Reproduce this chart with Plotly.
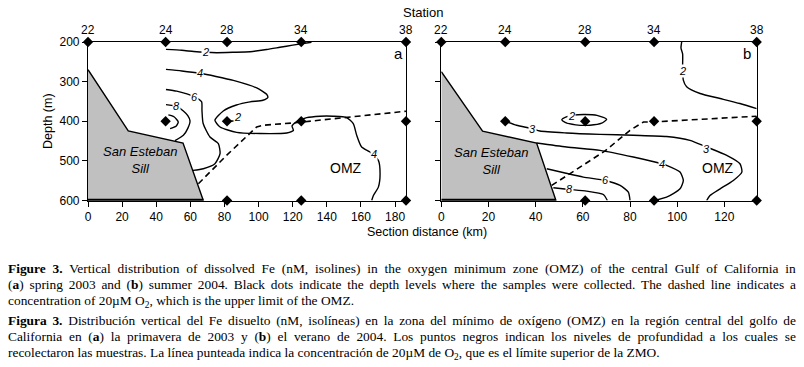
import plotly.graph_objects as go

# ---------------- data ----------------
# Panel a (spring 2003)
a_station_names = ["22", "24", "28", "34", "38"]
a_station_km = [0, 45.5, 81.5, 125.0, 186.4]
a_samples_km = [0, 45.5, 81.5, 125.0, 186.4, 45.5, 81.5, 125.0, 186.4, 81.5, 125.0, 186.4]
a_samples_depth = [200, 200, 200, 200, 200, 400, 400, 400, 400, 600, 600, 600]
a_sill_km = [0, 23.6, 55.7, 67.6, 0]
a_sill_depth = [270, 424.5, 455, 600, 600]
a_iso2_km = [45.7, 55, 62, 68.6, 75.4, 85.2, 95, 104.7, 112.5, 120, 131]
a_iso2_depth = [218.5, 221, 224, 226, 227, 226, 224.5, 219, 213.4, 208, 200.5]
a_iso4_km = [45.7, 55, 65.6, 75, 85.2, 98.9, 104.7, 105.4, 102.5, 95, 87, 79.3, 74.4, 77.4, 87.1, 100.8,
             116.5, 120.4, 119.6, 122.4, 128.2, 136, 143.8, 151.6, 155.5, 157.5, 160.4, 165.3, 170.2,
             171.2, 170.2, 167.3, 166.3]
a_iso4_depth = [269, 273, 279, 287, 297, 316, 332, 340, 347, 351, 359, 374, 397.5, 414.4, 428, 431,
                429.5, 423, 412, 401, 391, 387.3, 387.3, 390.7, 405.9, 435.4, 465, 477.6, 498.7,
                532.5, 566.2, 587.3, 600]
a_iso2b_km = [81.5, 85, 89.1]
a_iso2b_depth = [400, 399.5, 398.7]
a_iso6_km = [45.7, 52, 58, 62.7, 66.6, 66.8, 67.5, 71.5, 76.4, 77.4, 74.4, 67.6, 61.5]
a_iso6_depth = [319.8, 324, 331, 338.5, 351, 372, 405.8, 439.7, 456.5, 481.9, 507.2, 519.8, 524]
a_iso8_km = [45.7, 49, 51.6, 55.9, 58.5, 59.8, 58.5, 55.9, 51]
a_iso8_depth = [358, 360, 362, 374, 386, 399, 418, 435.4, 449]
a_iso10_km = [47.1, 50.4, 52.9, 51.6, 48.1]
a_iso10_depth = [384, 388.6, 401.8, 412.7, 418.5]
a_o2_km = [64.7, 81, 98.9, 102.8, 120.4, 143.8, 163.3, 186.4]
a_o2_depth = [557.8, 487, 414.3, 410, 404.2, 393.2, 384.8, 374.7]
a_iso_labels = ["2", "4", "6", "8", "2", "4"]
a_iso_label_km = [68.6, 65.6, 62.7, 51.6, 87.5, 167.6]
a_iso_label_depth = [226, 279, 338.5, 362, 389, 481.9]

# Panel b (summer 2004)
b_station_names = ["22", "24", "28", "34", "38"]
b_station_km = [0, 27.1, 61.0, 90.2, 133.7]
b_samples_km = [0, 27.1, 61.0, 90.2, 133.7, 27.1, 61.0, 90.2, 133.7, 61.0, 90.2, 133.7]
b_samples_depth = [200, 200, 200, 200, 200, 400, 400, 400, 400, 600, 600, 600]
b_sill_km = [0, 17.5, 40.4, 48.6, 0]
b_sill_depth = [275, 425, 455, 600, 600]
b_iso2_km = [101.9, 101.6, 102.3, 102.3, 102.6, 104, 109.7, 118.2, 126.6, 133.7]
b_iso2_depth = [200, 215, 230, 260, 296.2, 313, 330, 342.6, 355.3, 368]
b_iso2e_km = [51.1, 53, 56, 60.9, 66, 70.1, 68, 63, 57, 52.5, 51.1]
b_iso2e_depth = [396, 389, 384.5, 383, 385, 395, 405, 410, 409, 403, 396]
b_iso3_km = [27.1, 31.9, 38.6, 41.8, 53.1, 67.3, 81.4, 95.5, 105.4, 112.5, 121, 126.6, 127.4, 123.8,
             118.2, 113.9, 112.5]
b_iso3_depth = [400, 410.1, 418.6, 424.5, 429.5, 433, 435.4, 438.5, 448.1, 465, 486, 507.2, 528.3,
                549.4, 570.5, 587.3, 600]
b_iso4_km = [40.4, 53.1, 67.3, 81.4, 93.4, 95.5, 101.2, 102.6, 101.2, 95.5, 90.2]
b_iso4_depth = [454.9, 465, 473.4, 490.3, 507.2, 511.4, 528.3, 549.4, 570.5, 591.6, 600]
b_iso6_km = [44.7, 52, 60.2, 69.4, 75.8, 79.3, 80]
b_iso6_depth = [519.8, 530, 540.9, 549.4, 562, 578.9, 600]
b_iso8_km = [47.5, 54.3, 61.6, 68.7, 70.4]
b_iso8_depth = [567.9, 572.2, 576.4, 584.8, 600]
b_o2_km = [46.8, 69.4, 80, 85.7, 89.9, 109.7, 133.7]
b_o2_depth = [562, 475, 422.8, 402, 401.7, 395, 387.3]
b_iso_labels = ["2", "2", "3", "3", "4", "6", "8"]
b_iso_label_km = [102.3, 55.3, 38.6, 112.5, 93.4, 69.4, 54.3]
b_iso_label_depth = [272.6, 387.3, 418.6, 469.2, 507.2, 549.4, 572.2]

depth_ticks = [200, 300, 400, 500, 600]
a_km_ticks = [0, 20, 40, 60, 80, 100, 120, 140, 160, 180]
b_km_ticks = [0, 20, 40, 60, 80, 100, 120]

caption_lines = [
    "<b>Figure 3.</b> Vertical distribution of dissolved Fe (nM, isolines) in the oxygen minimum zone (OMZ) of the central Gulf of California in",
    "(<b>a</b>) spring 2003 and (<b>b</b>) summer 2004. Black dots indicate the depth levels where the samples were collected. The dashed line indicates a",
    "concentration of 20µM O<sub>2</sub>, which is the upper limit of the OMZ.",
    "<b>Figura 3.</b> Distribución vertical del Fe disuelto (nM, isolíneas) en la zona del mínimo de oxígeno (OMZ) en la región central del golfo de",
    "California en (<b>a</b>) la primavera de 2003 y (<b>b</b>) el verano de 2004. Los puntos negros indican los niveles de profundidad a los cuales se",
    "recolectaron las muestras. La línea punteada indica la concentración de 20µM de O<sub>2</sub>, que es el límite superior de la ZMO.",
]
caption_justified = [True, True, False, True, True, False]
caption_y_px = [268.5, 284.5, 301, 320.5, 336.5, 353]

# ---------------- styling ----------------
W, H = 804, 367
SANS = "Liberation Sans, Arial, sans-serif"
SERIF = "Liberation Serif, Times New Roman, serif"
Y0, Y1 = 1 - 200.5 / H, 1 - 42 / H
XA = [88 / W, 406 / W]
XB = [441.3 / W, 756.7 / W]

fig = go.Figure()

def add_panel(xa, ya, sill_km, sill_depth, isolines, o2_km, o2_depth, samp_km, samp_depth,
              st_km, st_names, lab, lab_km, lab_depth):
    fig.add_trace(go.Scatter(x=sill_km, y=sill_depth, xaxis=xa, yaxis=ya, mode="lines",
                             fill="toself", fillcolor="#c0c0c0",
                             line=dict(color="black", width=1.4), hoverinfo="skip"))
    fig.add_trace(go.Scatter(x=[sill_km[0], sill_km[3]], y=[600, 600], xaxis=xa, yaxis=ya,
                             mode="lines", line=dict(color="black", width=3.5),
                             cliponaxis=False, hoverinfo="skip"))
    for kx, ky in isolines:
        fig.add_trace(go.Scatter(x=kx, y=ky, xaxis=xa, yaxis=ya, mode="lines",
                                 line=dict(color="black", width=1.4, shape="spline", smoothing=0.6),
                                 hoverinfo="skip"))
    fig.add_trace(go.Scatter(x=o2_km, y=o2_depth, xaxis=xa, yaxis=ya, mode="lines",
                             line=dict(color="black", width=1.6, dash="6px,4px"), hoverinfo="skip"))
    fig.add_trace(go.Scatter(x=samp_km, y=samp_depth, xaxis=xa, yaxis=ya, mode="markers",
                             marker=dict(symbol="diamond", size=8, color="black"),
                             cliponaxis=False, hoverinfo="skip"))
    for s, n in zip(st_km, st_names):
        fig.add_annotation(x=s, y=200, xref=xa, yref=ya, text=n, showarrow=False,
                           xanchor="center", yanchor="bottom", yshift=3,
                           font=dict(family=SANS, size=12, color="black"))
    for t, kx, ky in zip(lab, lab_km, lab_depth):
        fig.add_annotation(x=kx, y=ky, xref=xa, yref=ya, text="<i>" + t + "</i>", showarrow=False,
                           xanchor="center", yanchor="middle", bgcolor="white", borderpad=0,
                           font=dict(family=SANS, size=11, color="black"))

add_panel("x", "y", a_sill_km, a_sill_depth,
          [(a_iso2_km, a_iso2_depth), (a_iso4_km, a_iso4_depth), (a_iso2b_km, a_iso2b_depth),
           (a_iso6_km, a_iso6_depth), (a_iso8_km, a_iso8_depth), (a_iso10_km, a_iso10_depth)],
          a_o2_km, a_o2_depth, a_samples_km, a_samples_depth, a_station_km, a_station_names,
          a_iso_labels, a_iso_label_km, a_iso_label_depth)
add_panel("x2", "y2", b_sill_km, b_sill_depth,
          [(b_iso2_km, b_iso2_depth), (b_iso2e_km, b_iso2e_depth), (b_iso3_km, b_iso3_depth),
           (b_iso4_km, b_iso4_depth), (b_iso6_km, b_iso6_depth), (b_iso8_km, b_iso8_depth)],
          b_o2_km, b_o2_depth, b_samples_km, b_samples_depth, b_station_km, b_station_names,
          b_iso_labels, b_iso_label_km, b_iso_label_depth)

axis_common = dict(showgrid=False, zeroline=False, showline=True, mirror=True, linecolor="black",
                   linewidth=1.2, ticks="outside", ticklen=5, tickcolor="black", automargin=False,
                   tickfont=dict(family=SANS, size=12, color="black"))
fig.update_layout(
    width=W, height=H, margin=dict(l=0, r=0, t=0, b=0, pad=0, autoexpand=False),
    paper_bgcolor="white", plot_bgcolor="white", showlegend=False,
    xaxis=dict(domain=XA, range=[0, a_station_km[-1]], tickvals=a_km_ticks, anchor="y", **axis_common),
    yaxis=dict(domain=[Y0, Y1], range=[600, 200], tickvals=depth_ticks, anchor="x", **axis_common),
    xaxis2=dict(domain=XB, range=[0, b_station_km[-1]], tickvals=b_km_ticks, anchor="y2", **axis_common),
    yaxis2=dict(domain=[Y0, Y1], range=[600, 200], tickvals=depth_ticks, anchor="x2",
                showticklabels=False, **axis_common),
)

def px(xp, yp):
    return xp / W, 1 - yp / H

texts = [
    ("Station", 423, 13, 13, 0),
    ("Section distance (km)", 427, 232, 12.5, 0),
    ("Depth (m)", 48, 121, 12.5, -90),
]
for t, xp, yp, sz, ang in texts:
    x, y = px(xp, yp)
    fig.add_annotation(x=x, y=y, xref="paper", yref="paper", text=t, showarrow=False,
                       xanchor="center", yanchor="middle",
                       textangle=ang, font=dict(family=SANS, size=sz, color="black"))

for t, xp, yp, sz in [("<i>San Esteban<br>Sill</i>", 140, 160, 13), ("<i>San Esteban<br>Sill</i>", 491, 161, 13),
                      ("OMZ", 346, 168, 14), ("OMZ", 718, 168, 14),
                      ("a", 398, 54, 15), ("b", 747, 53, 15)]:
    x, y = px(xp, yp)
    fig.add_annotation(x=x, y=y, xref="paper", yref="paper", text=t, showarrow=False,
                       xanchor="center", yanchor="middle",
                       font=dict(family=SANS, size=sz, color="black"))

cap_start = len(fig.layout.annotations)
cap_idx = []
just_flags = []
for i, (t, yp) in enumerate(zip(caption_lines, caption_y_px)):
    x, y = px(8, yp)
    fig.add_annotation(x=x, y=y, xref="paper", yref="paper", text=t, showarrow=False,
                       xanchor="left", yanchor="middle", align="left", borderpad=0,
                       font=dict(family=SERIF, size=13.4, color="black"))
    cap_idx.append(cap_start + i)
    just_flags.append(1 if caption_justified[i] else 0)

js = """
document.body.style.margin = '0px';
document.body.style.padding = '0px';
var gd = document.getElementById('{plot_id}');
var idx = %s;
var just = %s;
var LEFT = 8, TARGET = 788;
var svg = gd.querySelector('.main-svg');
var sr = svg.getBoundingClientRect();
idx.forEach(function(i, k){
  var t = gd.querySelector('g.annotation[data-index="' + i + '"] text.annotation-text');
  if (!t) return;
  if (just[k]) {
    t.style.wordSpacing = '0px';
    var w = t.getBBox().width;
    var n = (t.textContent.match(/ /g) || []).length;
    if (n > 0) { t.style.wordSpacing = ((TARGET - w) / n) + 'px'; }
  }
  var r = t.getBoundingClientRect();
  var dx = (sr.left + LEFT) - r.left;
  var old = t.getAttribute('transform') || '';
  t.setAttribute('transform', 'translate(' + dx + ',0) ' + old);
});
""" % (str(cap_idx), str(just_flags))

fig.write_html("out.html", post_script=js, config={"displayModeBar": False})
